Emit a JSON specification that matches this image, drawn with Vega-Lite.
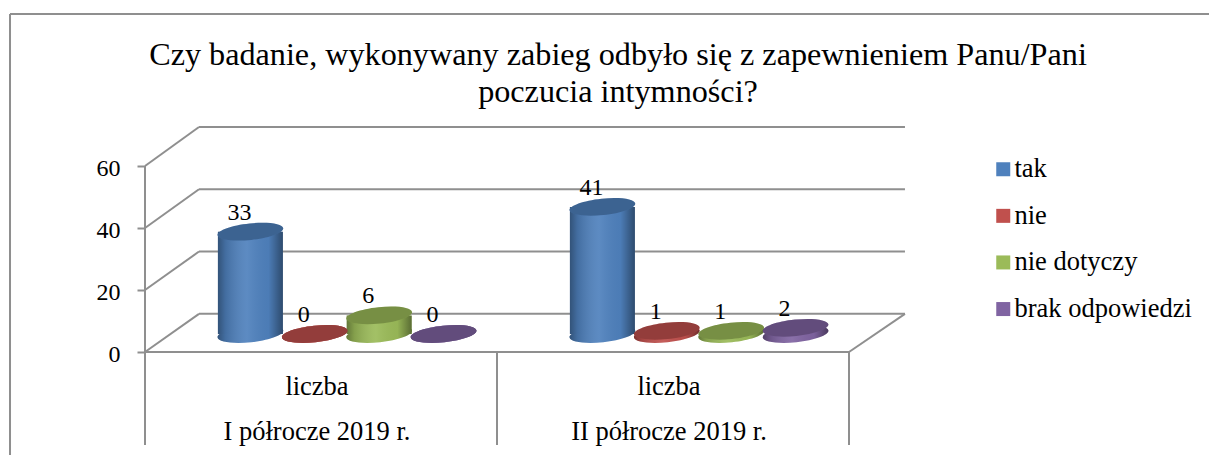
{
"$schema":"https://vega.github.io/schema/vega-lite/v6.json",
"width":704,"height":186,
"autosize":{"type":"none"},
"padding":{"left":145,"top":166,"right":360,"bottom":103},
"background":"white",
"config":{"view":{"stroke":null}},
"title":{"text":["Czy badanie, wykonywany zabieg odbyło się z zapewnieniem Panu/Pani","poczucia intymności?"],"anchor":"middle","frame":"group","dx":121,"font":"Liberation Serif","fontSize":32.2,"fontWeight":"normal","lineHeight":37,"offset":-96,"color":"black"},
"datasets":{
"walls":[
{"u1":-0.3835,"v1":109.0,"u2":3.2,"v2":109.0,"part":"frame"},
{"u1":-0.3835,"v1":109.0,"u2":-0.3835,"v2":-34,"part":"frame"},
{"u1":0,"v1":0,"u2":0,"v2":60,"part":"wall"},
{"u1":0,"v1":0,"u2":2,"v2":0,"part":"floor"},
{"u1":0,"v1":0,"u2":0.1534,"v2":12.3,"part":"wall"},
{"u1":0,"v1":20,"u2":0.1534,"v2":32.4,"part":"wall"},
{"u1":0,"v1":40,"u2":0.1534,"v2":52.5,"part":"wall"},
{"u1":0,"v1":60,"u2":0.1534,"v2":72.6,"part":"wall"},
{"u1":0.1534,"v1":12.3,"u2":2.159,"v2":12.3,"part":"grid"},
{"u1":0.1534,"v1":32.4,"u2":2.159,"v2":32.4,"part":"grid"},
{"u1":0.1534,"v1":52.5,"u2":2.159,"v2":52.5,"part":"grid"},
{"u1":0.1534,"v1":72.6,"u2":2.159,"v2":72.6,"part":"grid"},
{"u1":2,"v1":0,"u2":2.159,"v2":12.3,"part":"floor"},
{"u1":0,"v1":0,"u2":0,"v2":-30,"part":"divider"},
{"u1":1,"v1":0,"u2":1,"v2":-30,"part":"divider"},
{"u1":2,"v1":0,"u2":2,"v2":-30,"part":"divider"}
],
"counts":[
{"okres":"I półrocze 2019 r.","odp":"tak","n":33},
{"okres":"I półrocze 2019 r.","odp":"nie","n":0},
{"okres":"I półrocze 2019 r.","odp":"nie dotyczy","n":6},
{"okres":"I półrocze 2019 r.","odp":"brak odpowiedzi","n":0},
{"okres":"II półrocze 2019 r.","odp":"tak","n":41},
{"okres":"II półrocze 2019 r.","odp":"nie","n":1},
{"okres":"II półrocze 2019 r.","odp":"nie dotyczy","n":1},
{"okres":"II półrocze 2019 r.","odp":"brak odpowiedzi","n":2}
]},
"resolve":{"scale":{"x":"independent"}},
"layer":[
{"data":{"name":"walls"},
 "mark":{"type":"rule","stroke":"#8f8f8f","strokeWidth":2},
 "encoding":{
  "x":{"field":"u1","type":"quantitative","scale":{"domain":[0,2],"nice":false,"zero":false},"axis":null},
  "x2":{"field":"u2"},
  "y":{"field":"v1","type":"quantitative","scale":{"domain":[0,60],"nice":false},
   "axis":{"orient":"left","values":[0,20,40,60],"title":null,"grid":false,"domain":false,"tickColor":"#8f8f8f","tickWidth":2,"tickSize":8,"labelPadding":17,"labelOffset":2,"labelFont":"Liberation Serif","labelFontSize":24,"labelColor":"black"}},
  "y2":{"field":"v2"}}},
{"data":{"name":"counts"},
 "layer":[
 {"mark":{"type":"point","filled":true,"opacity":1,"yOffset":-18,"shape":"M-0.995,0.105A1,0.25,-6,1,1,0.995,-0.105A1,0.25,-6,1,1,-0.995,0.105Z","size":4356},
  "encoding":{"y":{"datum":0,"type":"quantitative"},
   "color":{"field":"odp","type":"nominal","scale":{"domain":["tak","nie","nie dotyczy","brak odpowiedzi"],"range":["#4F81BD","#C0504D","#9BBB59","#8064A2"]},
    "legend":{"title":null,"orient":"none","legendX":845,"legendY":-10,"symbolType":"square","symbolSize":196,"symbolOpacity":1,"labelFont":"Liberation Serif","labelFontSize":26.5,"labelColor":"black","rowPadding":19.6,"labelOffset":-2,"labelLimit":300,"symbolStrokeWidth":0}}}},
 {"mark":{"type":"point","filled":true,"opacity":1,"yOffset":-18,"shape":"M-0.995,0.105A1,0.25,-6,1,1,0.995,-0.105A1,0.25,-6,1,1,-0.995,0.105Z","size":4356,"fill":{"gradient":"linear","x1":0,"y1":0,"x2":1,"y2":0,"stops":[{"offset":0,"color":"rgba(0,0,0,0.36)"},{"offset":0.12,"color":"rgba(0,0,0,0.15)"},{"offset":0.45,"color":"rgba(255,255,255,0.08)"},{"offset":0.78,"color":"rgba(0,0,0,0.04)"},{"offset":1,"color":"rgba(0,0,0,0.42)"}]}},
  "encoding":{"y":{"datum":0,"type":"quantitative"}}},
 {"transform":[{"filter":"datum.n >= 3"}],
  "mark":{"type":"bar","width":65,"orient":"vertical","yOffset":-18,"y2Offset":-18},
  "encoding":{"y":{"field":"n","type":"quantitative","stack":null},"y2":{"datum":0},
   "color":{"field":"odp","type":"nominal"}}},
 {"transform":[{"filter":"datum.n >= 3"}],
  "mark":{"type":"bar","width":65,"orient":"vertical","yOffset":-18,"y2Offset":-18,"fill":{"gradient":"linear","x1":0,"y1":0,"x2":1,"y2":0,"stops":[{"offset":0,"color":"rgba(0,0,0,0.36)"},{"offset":0.12,"color":"rgba(0,0,0,0.15)"},{"offset":0.45,"color":"rgba(255,255,255,0.08)"},{"offset":0.78,"color":"rgba(0,0,0,0.04)"},{"offset":1,"color":"rgba(0,0,0,0.42)"}]}},
  "encoding":{"y":{"field":"n","type":"quantitative","stack":null},"y2":{"datum":0}}},
 {"mark":{"type":"point","filled":true,"opacity":1,"yOffset":-18,"shape":"M-0.995,0.105A1,0.25,-6,1,1,0.995,-0.105A1,0.25,-6,1,1,-0.995,0.105Z","size":4356},
  "encoding":{"y":{"field":"n","type":"quantitative"},"color":{"field":"odp","type":"nominal"}}},
 {"mark":{"type":"point","filled":true,"opacity":1,"fill":"#000000","fillOpacity":0.23,"yOffset":-18,"shape":"M-0.995,0.105A1,0.25,-6,1,1,0.995,-0.105A1,0.25,-6,1,1,-0.995,0.105Z","size":4356},
  "encoding":{"y":{"field":"n","type":"quantitative"}}},
 {"mark":{"type":"text","font":"Liberation Serif","fontSize":24,"color":"black","dx":-11,"dy":-37,"baseline":"middle"},
  "encoding":{"y":{"field":"n","type":"quantitative"},"text":{"field":"n","type":"quantitative"}}}
 ],
 "encoding":{
  "x":{"field":"okres","type":"nominal","scale":{"paddingInner":0,"paddingOuter":0,"range":[26,730]},
   "axis":{"orient":"bottom","title":null,"domain":false,"ticks":false,"labelAngle":0,"labelOffset":-30,"labelFont":"Liberation Serif","labelFontSize":26.5,"labelColor":"black","labelLineHeight":45,"labelPadding":21,"labelLimit":0,"labelExpr":"['liczba', datum.label]"}},
  "xOffset":{"field":"odp","type":"nominal","sort":["tak","nie","nie dotyczy","brak odpowiedzi"],"scale":{"paddingInner":0,"paddingOuter":0.733}}
 }}
]
}
